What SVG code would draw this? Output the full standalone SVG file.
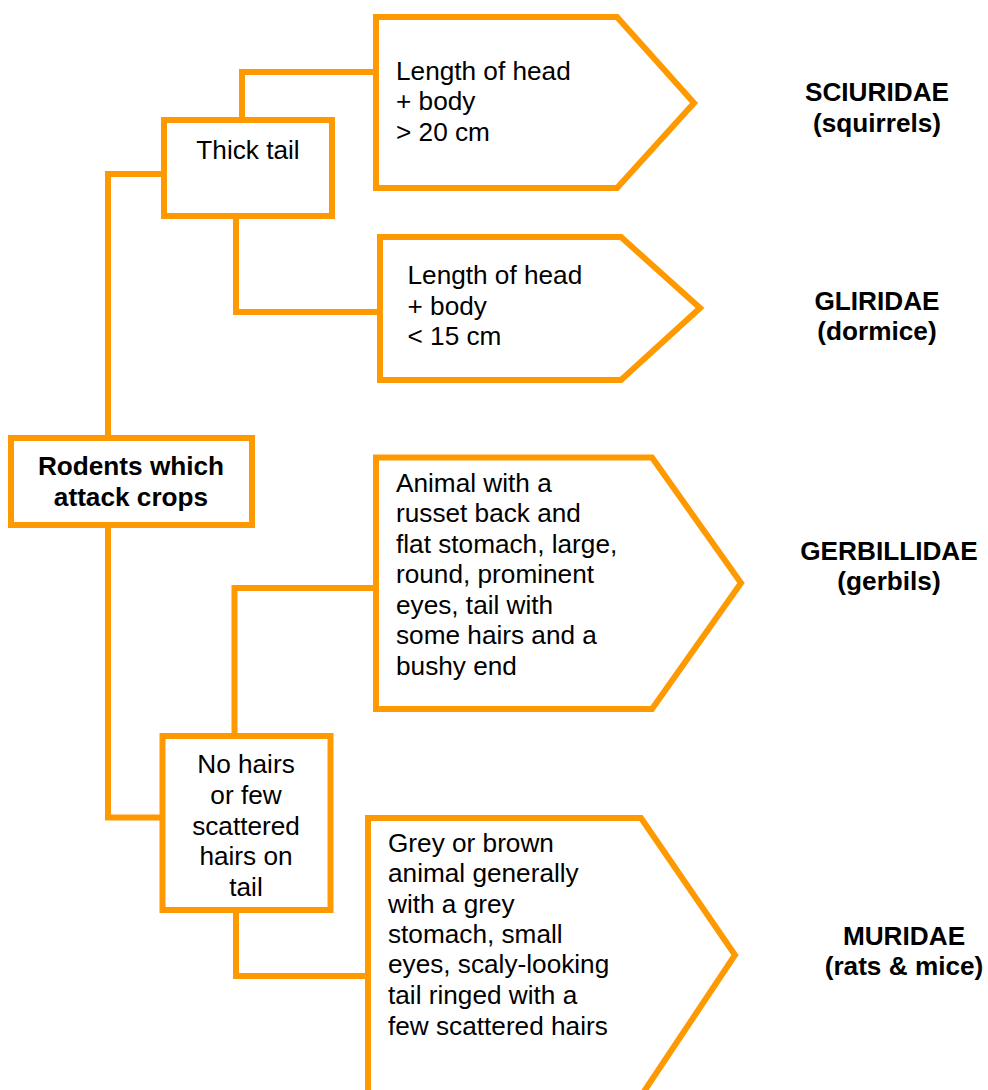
<svg xmlns="http://www.w3.org/2000/svg" width="988" height="1090" viewBox="0 0 988 1090">
<style>
.shape{fill:#fff;stroke:#FF9900;stroke-width:6;stroke-linejoin:miter}
.conn{fill:none;stroke:#FF9900;stroke-width:6;stroke-linejoin:miter}
text{font-family:"Liberation Sans",Arial,sans-serif;font-size:26.2px;fill:#000}
.b{font-weight:bold}
.c{text-anchor:middle}
</style>
<rect width="988" height="1090" fill="#fff"/>
<g id="connectors">
<path class="conn" d="M108,438 V174 H164"/>
<path class="conn" d="M242,120 V72 H376"/>
<path class="conn" d="M236,216 V312 H380"/>
<path class="conn" d="M108,525 V817.5 H162.5"/>
<path class="conn" d="M234.5,736 V588 H376"/>
<path class="conn" d="M236,910 V976 H368"/>
</g>
<g id="rodents">
<rect class="shape" x="11" y="438" width="241" height="87"/>
<text class="b c" x="131" y="475">Rodents which</text>
<text class="b c" x="131" y="506">attack crops</text>
</g>
<g id="thick-tail">
<rect class="shape" x="164" y="120" width="168" height="96"/>
<text class="c" x="248" y="159">Thick tail</text>
</g>
<g id="no-hairs">
<rect class="shape" x="162.5" y="736" width="168" height="174"/>
<text class="c" x="246" y="773">No hairs</text>
<text class="c" x="246" y="804">or few</text>
<text class="c" x="246" y="834.5">scattered</text>
<text class="c" x="246" y="865">hairs on</text>
<text class="c" x="246" y="895.5">tail</text>
</g>
<g id="head-gt20">
<polygon class="shape" points="376,17 617,17 694,103 617,188 376,188"/>
<text x="396" y="80">Length of head</text>
<text x="396" y="110">+ body</text>
<text x="396" y="140.5">&gt; 20 cm</text>
</g>
<g id="head-lt15">
<polygon class="shape" points="380,237 621,237 700,308 621,380 380,380"/>
<text x="407.5" y="284">Length of head</text>
<text x="407.5" y="315">+ body</text>
<text x="407.5" y="345">&lt; 15 cm</text>
</g>
<g id="gerbil-desc">
<polygon class="shape" points="376,457.5 652,457.5 741,583 652,709 376,709"/>
<text x="396" y="491.5">Animal with a</text>
<text x="396" y="522">russet back and</text>
<text x="396" y="552.5">flat stomach, large,</text>
<text x="396" y="583">round, prominent</text>
<text x="396" y="614">eyes, tail with</text>
<text x="396" y="644">some hairs and a</text>
<text x="396" y="675">bushy end</text>
</g>
<g id="murid-desc">
<polygon class="shape" points="368,818 641,818 735,955 641,1096 368,1096"/>
<text x="388" y="851.5">Grey or brown</text>
<text x="388" y="882">animal generally</text>
<text x="388" y="912.5">with a grey</text>
<text x="388" y="942.5">stomach, small</text>
<text x="388" y="973">eyes, scaly-looking</text>
<text x="388" y="1004">tail ringed with a</text>
<text x="388" y="1035">few scattered hairs</text>
</g>
<g id="sciuridae">
<text class="b c" x="877" y="101">SCIURIDAE</text>
<text class="b c" x="877" y="132">(squirrels)</text>
</g>
<g id="gliridae">
<text class="b c" x="877" y="310">GLIRIDAE</text>
<text class="b c" x="877" y="340">(dormice)</text>
</g>
<g id="gerbillidae">
<text class="b c" x="889" y="560">GERBILLIDAE</text>
<text class="b c" x="889" y="590">(gerbils)</text>
</g>
<g id="muridae">
<text class="b c" x="904" y="945">MURIDAE</text>
<text class="b c" x="904" y="975">(rats &amp; mice)</text>
</g>
</svg>
